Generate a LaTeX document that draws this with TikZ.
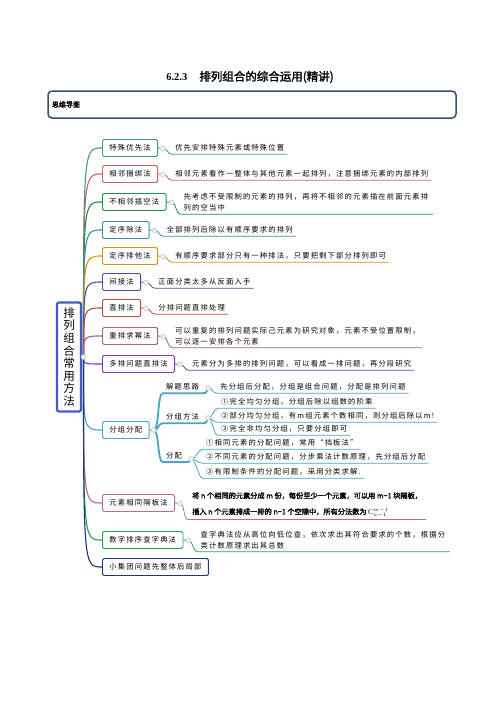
\documentclass[tikz,border=0pt]{standalone}
\usepackage{fontspec}
\setmainfont{Liberation Serif}
\newfontfamily\cjk[LetterSpace=16]{Noto Sans CJK SC}
\newfontfamily\cjkplain{Noto Sans CJK SC}
\newfontfamily\cjkbold[FakeBold=2]{Noto Sans CJK SC}
\usetikzlibrary{calc}
\newcommand\brf{\cjk\fontsize{7.3}{11}\selectfont}
\newcommand\lff{\cjk\fontsize{7.3}{11}\selectfont}
\newcommand\eqf{\cjkbold\fontsize{7.2}{12}\selectfont}
\newcommand\rootf{\cjkplain\fontsize{11.5}{12.6}\selectfont}
\newcommand\bxf{\cjkbold\fontsize{7}{8}\selectfont}
\definecolor{cA}{HTML}{3B9C8C}
\definecolor{cB}{HTML}{C86468}
\definecolor{cC}{HTML}{17924A}
\definecolor{cD}{HTML}{3A8CAE}
\definecolor{cE}{HTML}{D4960A}
\definecolor{cF}{HTML}{4B4F9C}
\definecolor{cG}{HTML}{C24A3A}
\definecolor{cH}{HTML}{A05E96}
\definecolor{cI}{HTML}{7E3BB0}
\definecolor{cJ}{HTML}{4AA3C6}
\definecolor{cK}{HTML}{B46AA2}
\definecolor{cL}{HTML}{22A356}
\definecolor{cM}{HTML}{1F3575}
\definecolor{cRoot}{HTML}{3F5FC0}
\definecolor{cBox}{HTML}{34506E}
\begin{document}
\begin{tikzpicture}[x=1pt,y=-1pt,
  br/.style={draw=#1, line width=0.9pt, rounded corners=1.5pt, fill=white, inner xsep=7pt, inner ysep=0pt, minimum height=17pt, anchor=west, font=\brf},
  lf/.style={anchor=west, inner xsep=3pt, inner ysep=2.6pt, font=\lff, align=left},
  dotn/.style={circle, inner sep=0pt, minimum size=5pt, fill=gray!12, draw=gray!50, line width=0.4pt},
  con/.style={line width=1.1pt},
  ul/.style={line width=0.8pt},
]
\useasboundingbox (0,0) rectangle (496,702);
\fill[white] (0,0) rectangle (496,702);

% title and header box
\node (title) at (250,77) {{\bfseries\fontsize{10.5}{12}\selectfont 6.2.3}\hspace{12pt}{\cjkbold\fontsize{11.5}{13}\selectfont 排列组合的综合运用(精讲)}};
\node[draw=cBox, line width=1.5pt, rounded corners=4pt, minimum width=408pt, minimum height=27pt, text width=400pt, align=left, inner xsep=4pt, font=\bxf] (hdr) at (252,104.5) {思维导图};

% root
\node[draw=cRoot, line width=2.2pt, rounded corners=2pt, fill=white, minimum width=24pt, minimum height=109pt, inner sep=0pt, font=\rootf, align=center] (root) at (69,357) {排\\列\\组\\合\\常\\用\\方\\法};
\coordinate (rd) at (83.5,357);

% branches
\node[br=cA] (b1) at (102,148) {特殊优先法};
\node[br=cB] (b2) at (102,174) {相邻捆绑法};
\node[br=cC] (b3) at (102,202) {不相邻插空法};
\node[br=cD] (b4) at (102,230) {定序除法};
\node[br=cE] (b5) at (102,256) {定序排他法};
\node[br=cF] (b6) at (102,282) {间接法};
\node[br=cG] (b7) at (102,308) {直排法};
\node[br=cH] (b8) at (102,336) {重排求幂法};
\node[br=cI] (b9) at (102,364) {多排问题直排法};
\node[br=cJ] (b10) at (102,430) {分组分配};
\node[br=cK] (b11) at (102,503) {元素相同隔板法};
\node[br=cL] (b12) at (102,540) {数字排序查字典法};
\node[br=cM] (b13) at (102,567) {小集团问题先整体后局部};

% dots after branches
\foreach \i in {1,...,9,11,12} {\coordinate (d\i) at ($(b\i.east)+(5,0.5)$);}
\coordinate (d10) at ($(b10.east)+(4,0)$);

% leaves
\node[lf] (l1) at ($(d1)+(9,-0.5)$) {优先安排特殊元素或特殊位置};
\node[lf] (l2) at ($(d2)+(9,-0.5)$) {相邻元素看作一整体与其他元素一起排列，注意捆绑元素的内部排列};
\node[lf, text width=246pt] (l3) at ($(d3)+(9,0)$) {先考虑不受限制的元素的排列，再将不相邻的元素插在前面元素排\\列的空当中};
\node[lf] (l4) at ($(d4)+(9,-0.5)$) {全部排列后除以有顺序要求的排列};
\node[lf] (l5) at ($(d5)+(9,-0.5)$) {有顺序要求部分只有一种排法，只要把剩下部分排列即可};
\node[lf] (l6) at ($(d6)+(9,-0.5)$) {正面分类太多从反面入手};
\node[lf] (l7) at ($(d7)+(9,-0.5)$) {分排问题直排处理};
\node[lf, text width=244pt] (l8) at ($(d8)+(9,-0.5)$) {可以重复的排列问题实际己元素为研究对象，元素不受位置限制，\\可以逐一安排各个元素};
\node[lf] (l9) at ($(d9)+(9,-0.5)$) {元素分为多排的排列问题，可以看成一排问题，再分段研究};
\node[lf, font=\eqf, inner ysep=1.5pt, inner xsep=4pt] (l11) at ($(d11)+(8,1.5)$) {将 n 个相同的元素分成 m 份，每份至少一个元素，可以用 m−1 块隔板，\\[4pt]插入 n 个元素排成一排的 n−1 个空隙中，所有分法数为 $\mathrm{C}_{n-1}^{m-1}$};
\node[lf, text width=246pt] (l12) at ($(d12)+(9,-0.5)$) {查字典法应从高位向低位查，依次求出其符合要求的个数，根据分\\类计数原理求出其总数};

% subtree of 分组分配
\node[lf] (s1) at (163,387) {解题思路};
\node[lf] (s2) at (163,417) {分组方法};
\node[lf] (s3) at (163,456) {分配};
\coordinate (e1) at ($(s1.east)+(6,1)$);
\coordinate (e2) at ($(s2.east)+(6,1)$);
\coordinate (e3) at ($(s3.east)+(6,3)$);
\node[lf] (t1) at ($(e1)+(9,-1)$) {先分组后分配，分组是组合问题，分配是排列问题};
\node[lf] (t2) at (218,402) {①完全均匀分组，分组后除以组数的阶乘};
\node[lf] (t3) at (218,416) {②部分均匀分组，有m组元素个数相同，则分组后除以m!};
\node[lf] (t4) at (218,429) {③完全非均匀分组，只要分组即可};
\node[lf] (t5) at (203,443) {①相同元素的分配问题，常用“挡板法”};
\node[lf] (t6) at (203,457) {②不同元素的分配问题，分步乘法计数原理，先分组后分配};
\node[lf] (t7) at (203,472) {③有限制条件的分配问题，采用分类求解.};

% root connectors
\foreach \i/\c in {1/cA,2/cB,3/cC,4/cD,5/cE,6/cF,7/cG,8/cH,9/cI,10/cJ,11/cK,12/cL,13/cM} {
  \draw[con,\c] (rd) .. controls (rd |- b\i.west) .. (b\i.west);
}

% leaf underlines
\foreach \i/\c in {1/cA,2/cB,3/cC,4/cD,5/cE,6/cF,7/cG,8/cH,9/cI,11/cK,12/cL} {
  \draw[ul,\c] (b\i.east) -- (d\i) .. controls +(5,0) and +(-5,0) .. (l\i.south west) -- (l\i.south east);
}

% subtree connectors
\draw[cJ, line width=1pt] (b10.east) -- (d10);
\foreach \s in {1,2,3} {
  \draw[cJ, line width=1.8pt] (d10) .. controls ($(d10)+(6,0)$) and ($(s\s.south west)+(-6,0)$) .. (s\s.south west) -- (s\s.south east) .. controls ($(s\s.south east)+(4,0)$) .. (e\s);
}
\draw[ul,cJ] (e1) .. controls +(5,0) and +(-5,0) .. (t1.south west) -- (t1.south east);
\foreach \t in {2,3,4} {
  \draw[ul,cJ] (e2) .. controls +(5,0) and +(-5,0) .. (t\t.south west) -- (t\t.south east);
}
\foreach \t in {5,6,7} {
  \draw[ul,cJ] (e3) .. controls +(5,0) and +(-5,0) .. (t\t.south west) -- (t\t.south east);
}

% dots on top
\node[dotn] at (rd) {};
\foreach \i in {1,...,12} {\node[dotn] at (d\i) {};}
\foreach \i in {1,2,3} {\node[dotn] at (e\i) {};}
\end{tikzpicture}
\end{document}
